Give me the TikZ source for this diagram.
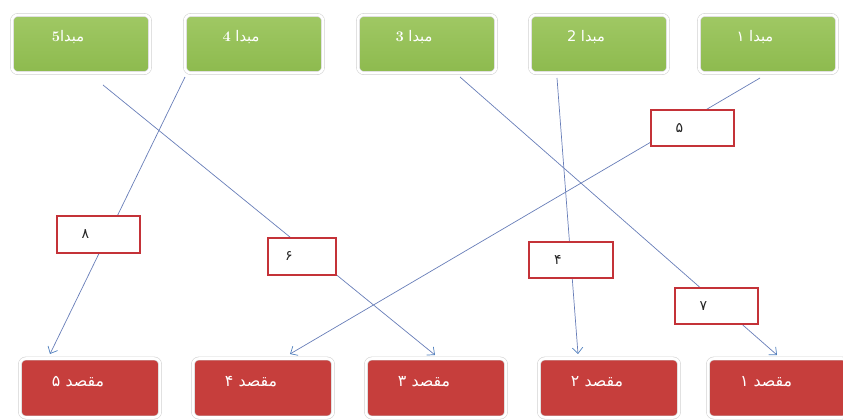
\documentclass[tikz,border=0pt]{standalone}
\usepackage{fontspec}
\newfontfamily\arabicfont[Script=Arabic]{DejaVu Sans}
\TeXXeTstate=1
\usetikzlibrary{arrows.meta,shadows}

\definecolor{srcgreen}{RGB}{141,186,78}
\definecolor{srclight}{RGB}{160,200,100}
\definecolor{dstred}{RGB}{198,62,60}
\definecolor{wtred}{RGB}{196,50,56}
\definecolor{flowblue}{RGB}{104,126,184}
\definecolor{tipblue}{RGB}{80,128,190}

\newcommand{\latdigit}[1]{{\rmfamily\bfseries #1}}

\tikzset{
  box/.style={rounded corners=5pt, draw=black!18, double=white,
    double distance=2.2pt, line width=0.5pt,
    minimum width=41.4mm, minimum height=17.4mm,
    drop shadow={shadow xshift=0pt, shadow yshift=-1.6pt, opacity=0.2}},
  src/.style={box, top color=srclight, bottom color=srcgreen,
    label={[text=white, font=\arabicfont\fontsize{12.5}{14}\selectfont, xshift=-3.9mm, yshift=2.1mm]center:#1}},
  dst/.style={box, fill=dstred, minimum width=42mm, minimum height=17.7mm,
    label={[text=white, font=\arabicfont\fontsize{13.5}{15}\selectfont, xshift=-3.6mm, yshift=1.8mm]center:#1}},
  wt/.style={draw=wtred, line width=1.5pt, fill=white,
    minimum width=25mm, minimum height=11mm,
    label={[text=black!85, font=\arabicfont\fontsize{12}{14}\selectfont, xshift=-3.9mm]center:#1}},
  flow/.style={draw=flowblue, line width=0.6pt,
    -{Straight Barb[length=5pt, width=9pt, color=tipblue]}}
}

\begin{document}
\begin{tikzpicture}[x=0.3mm, y=-0.3mm]
\useasboundingbox (0,0) rectangle (843,420);

% sources (top row)
\node[src={\beginR مبدا\latdigit{5}\endR}] (m5) at (81,44) {};
\node[src={\beginR مبدا \latdigit{4}\endR}] (m4) at (254,44) {};
\node[src={\beginR مبدا \latdigit{3}\endR}] (m3) at (427,44) {};
\node[src={\beginR مبدا 2\endR}] (m2) at (599,44) {};
\node[src={\beginR مبدا ۱\endR}] (m1) at (768,44) {};

% destinations (bottom row)
\node[dst={\beginR مقصد ۵\endR}] (q5) at (90,388) {};
\node[dst={\beginR مقصد ۴\endR}] (q4) at (263,388) {};
\node[dst={\beginR مقصد ۳\endR}] (q3) at (436,388) {};
\node[dst={\beginR مقصد ۲\endR}] (q2) at (609,388) {};
\node[dst={\beginR مقصد ۱\endR}] (q1) at (778,388) {};

% line ends
\coordinate (a5) at (103,85);
\coordinate (a4) at (185,77);
\coordinate (a3) at (460,77);
\coordinate (a2) at (557,78);
\coordinate (a1) at (760,78);
\coordinate (b5) at (50,354);
\coordinate (b4) at (290,354);
\coordinate (b3) at (435,355);
\coordinate (b2) at (578,354);
\coordinate (b1) at (777,355);

% assignments
\draw[flow] (a4) -- (b5);
\draw[flow] (a5) -- (b3);
\draw[flow] (a3) -- (b1);
\draw[flow] (a2) -- (b2);
\draw[flow] (a1) -- (b4);

% costs
\node[wt={\beginR ۸\endR}] (w8) at (98.5,234.5) {};
\node[wt={\beginR ۶\endR}, minimum width=20.4mm] (w6) at (302,256.5) {};
\node[wt={\beginR ۵\endR}] (w5) at (692.5,128) {};
\node[wt={\beginR ۴\endR}] (w4) at (571,260) {};
\node[wt={\beginR ۷\endR}] (w7) at (716.5,306) {};
\end{tikzpicture}
\end{document}
